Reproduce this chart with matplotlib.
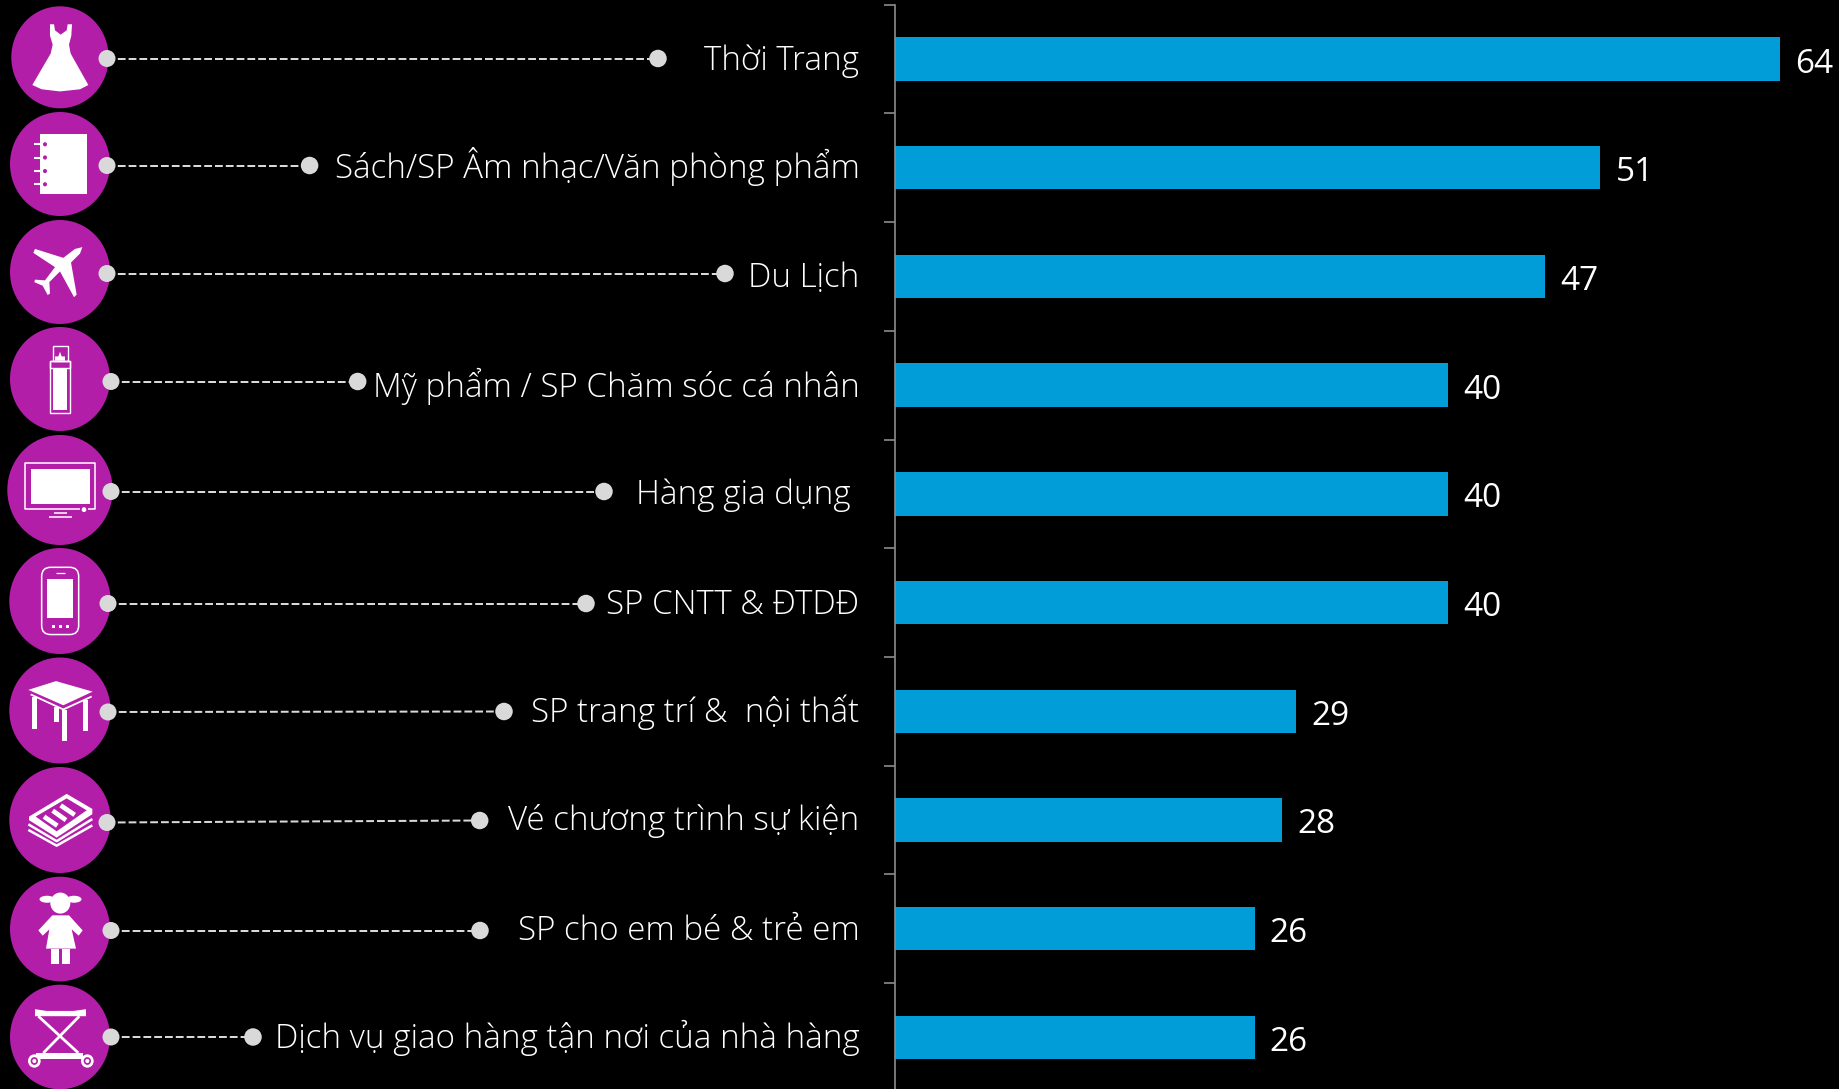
import matplotlib
matplotlib.use("Agg")
import matplotlib.pyplot as plt
from matplotlib.patches import Ellipse, Polygon, FancyBboxPatch

W, H = 1839, 1089

categories = ["Thời Trang", "Sách/SP Âm nhạc/Văn phòng phẩm", "Du Lịch",
              "Mỹ phẩm / SP Chăm sóc cá nhân", "Hàng gia dụng ", "SP CNTT & ĐTDĐ",
              "SP trang trí &  nội thất", "Vé chương trình sự kiện",
              "SP cho em bé & trẻ em", "Dịch vụ giao hàng tận nơi của nhà hàng"]
values = [64, 51, 47, 40, 40, 40, 29, 28, 26, 26]

# badge centres and radii, in pixels
badge_y = [57.3, 164, 272, 379, 490, 601, 710.5, 820, 929, 1037]
badge_rx = [48.7, 50, 50, 50, 52.7, 50.7, 50.7, 50.7, 50, 50]
badge_ry = [51, 52, 52, 52, 55, 53, 53, 53, 52.3, 52.3]
# leader lines
lead_x0 = [107, 107, 107, 111, 111, 108, 108, 107, 111, 111]
lead_y0 = [58.5, 165.5, 273.5, 381.5, 491.5, 603.5, 712, 822.5, 930.5, 1037]
lead_x1 = [658, 309.6, 725, 357.7, 604, 586, 504, 479.7, 480, 253]
lead_y1 = [58.5, 165.5, 273.5, 381.5, 491.5, 603.5, 711.5, 820.5, 930.5, 1037]
text_base = [70, 178, 287, 397, 504, 614, 722.5, 830.5, 939.5, 1047.5]

PURPLE = "#b31ea8"
WHITE = "#ffffff"
GREY = "#d9d9d9"
BLUE = "#009dd9"

fig = plt.figure(figsize=(W / 100, H / 100), dpi=100, facecolor="black")

# bars live in their own axes, the rest is drawn on a pixel overlay
px_per_unit = 13.83
top, step = 4.7, 108.7
ax = fig.add_axes([895 / W, 1 - (top + 10 * step) / H, (W - 895) / W, 10 * step / H])
ax.set_facecolor("none")
ax.barh(range(10), values, height=0.4, color=BLUE)
ax.set_ylim(9.5, -0.5)
ax.set_xlim(0, (W - 895) / px_per_unit)
ax.set_xticks([])
ax.set_yticks([i - 0.5 for i in range(10)])
ax.set_yticklabels([])
ax.tick_params(axis="y", length=8, width=1.2, color="#8c8c8c")
for s in ["top", "right", "bottom"]:
    ax.spines[s].set_visible(False)
ax.spines["left"].set_color("#8c8c8c")
ax.spines["left"].set_linewidth(1.2)
for i, v in enumerate(values):
    ax.annotate(str(v), (v, i), xytext=(11, -9.7), textcoords="offset points", va="baseline", ha="left",
                color=WHITE, fontsize=24, family="Open Sans", annotation_clip=False)

ov = fig.add_axes([0, 0, 1, 1])
ov.set_xlim(0, W)
ov.set_ylim(H, 0)
ov.axis("off")
ov.patch.set_alpha(0)


def z1(pts):
    return [(x / 3, y / 2.8) for x, y in pts]


def z2(pts):
    return [(x / 3, 540 + y / 2.856) for x, y in pts]


def poly(z, pts, color=WHITE):
    ov.add_patch(Polygon(z(pts), closed=True, fc=color, ec="none", zorder=4))


def box(z, x0, y0, x1, y1, fill=True, color=WHITE, lw=1.0):
    pts = [(x0, y0), (x1, y0), (x1, y1), (x0, y1)]
    ov.add_patch(Polygon(z(pts), closed=True, fc=color if fill else "none",
                         ec="none" if fill else color, lw=lw, zorder=4))


def seg(z, pts, lw=1.5, color=WHITE):
    xs, ys = zip(*z(pts))
    ov.plot(xs, ys, color=color, lw=lw, solid_capstyle="butt", zorder=4)


def dot(z, x, y, r, color=WHITE):
    (cx, cy), = z([(x, y)])
    ov.add_patch(Ellipse((cx, cy), r * 2 / 3, r * 2 / 2.85, fc=color, ec="none", zorder=5))


for y, rx, ry in zip(badge_y, badge_rx, badge_ry):
    ov.add_patch(Ellipse((60, y), rx * 2, ry * 2, fc=PURPLE, ec="none", zorder=2))

# dress
poly(z1, [(150, 68), (162, 68), (165, 85), (182, 97), (200, 85), (203, 68), (216, 68), (214, 100), (207, 125),
          (212, 150), (265, 238), (240, 250), (180, 256), (125, 250), (97, 238), (152, 150), (158, 125), (150, 100)])
# notebook
box(z1, 120, 375, 261, 543)
for y in [404, 441, 479, 516]:
    seg(z1, [(103, y), (122, y)], lw=1.5)
    dot(z1, 135, y, 6, PURPLE)
# plane
poly(z1, [(247, 692), (240, 710), (213, 735), (230, 825), (222, 832), (180, 760), (148, 790), (150, 822), (143, 826),
          (128, 800), (103, 790), (105, 783), (135, 785), (165, 748), (100, 708), (105, 697), (190, 722), (225, 697)])
# spray bottle
box(z1, 151, 1012, 209, 1155, fill=False)
box(z1, 160, 970, 203, 1012, fill=False)
box(z1, 151, 1012, 209, 1030, fill=False)
box(z1, 160, 1032, 200, 1147)
poly(z1, [(165, 1010), (165, 998), (175, 998), (180, 985), (185, 998), (195, 998), (195, 1010)])
# tv
seg(z1, [(240, 1425), (76, 1425), (76, 1297), (284, 1297), (284, 1425), (265, 1425)], lw=1.1)
box(z1, 92, 1313, 270, 1410)
dot(z1, 252, 1427, 7)
seg(z1, [(163, 1437), (200, 1437)], lw=1.1)
seg(z1, [(147, 1447), (217, 1447)], lw=1.1)
# phone
(px0, py0), (px1, py1) = z2([(125, 78), (236, 270)])
ov.add_patch(FancyBboxPatch((px0 + 6, py0 + 6), px1 - px0 - 12, py1 - py0 - 12, boxstyle="round,pad=6,rounding_size=9",
                            fc="none", ec=WHITE, lw=1.1, zorder=4))
box(z2, 142, 112, 220, 223)
seg(z2, [(168, 95), (195, 95)], lw=0.9)
for x in [160, 181, 202]:
    box(z2, x - 4, 243, x + 4, 251)
# table
poly(z2, [(85, 428), (168, 403), (278, 433), (190, 472)])
seg(z2, [(92, 441), (190, 484), (275, 447)], lw=1.3)
for x0, y0, x1, y1 in [(96, 448, 112, 540), (162, 478, 176, 520), (185, 485, 202, 573), (250, 458, 265, 545)]:
    box(z2, x0, y0, x1, y1)
# tickets
poly(z2, [(87, 790), (200, 725), (277, 768), (277, 783), (170, 850), (87, 800)])
poly(z2, [(107, 790), (200, 738), (260, 772), (170, 832)], PURPLE)
for a, b in [((132, 790), (172, 816)), ((158, 773), (198, 800)), ((182, 758), (224, 785))]:
    seg(z2, [a, b], lw=3.4)
seg(z2, [(85, 812), (170, 860), (277, 797)], lw=1.8)
seg(z2, [(85, 828), (170, 873), (277, 815)], lw=1.8)
# girl
dot(z2, 181, 1037, 30)
for x in [141, 222]:
    (cx, cy), = z2([(x, 1026)])
    ov.add_patch(Ellipse((cx, cy), 15, 7, fc=WHITE, ec="none", zorder=4))
poly(z2, [(157, 1072), (207, 1072), (248, 1115), (236, 1130), (215, 1112), (228, 1167), (138, 1167), (148, 1112),
          (128, 1130), (115, 1115)])
box(z2, 154, 1167, 176, 1210)
box(z2, 187, 1167, 211, 1210)
# folding cart
poly(z2, [(105, 1340), (140, 1345), (220, 1345), (258, 1340), (258, 1360), (105, 1360)])
seg(z2, [(115, 1360), (235, 1465)], lw=2)
seg(z2, [(238, 1360), (130, 1465)], lw=2)
poly(z2, [(108, 1465), (250, 1465), (250, 1483), (108, 1483)])
for x in [103, 262]:
    dot(z2, x, 1488, 19)
    dot(z2, x, 1488, 11, PURPLE)
    dot(z2, x, 1488, 6)

# leaders with a dot on both ends
for i in range(10):
    ov.plot([lead_x0[i], lead_x1[i]], [lead_y0[i], lead_y1[i]], color=GREY, lw=1.44, ls=(0, (3.9, 1.5)), zorder=6)
    ov.add_patch(Ellipse((lead_x0[i], lead_y0[i]), 17, 17, fc=GREY, ec="none", zorder=7))
    ov.add_patch(Ellipse((lead_x1[i], lead_y1[i]), 17.5, 17.5, fc=GREY, ec="none", zorder=7))
    ov.text(859.5, text_base[i], categories[i], color=WHITE, fontsize=23.9, family="Open Sans", weight="light",
            ha="right", va="baseline", zorder=8)

fig.savefig("out.png", dpi=100, facecolor="black")
